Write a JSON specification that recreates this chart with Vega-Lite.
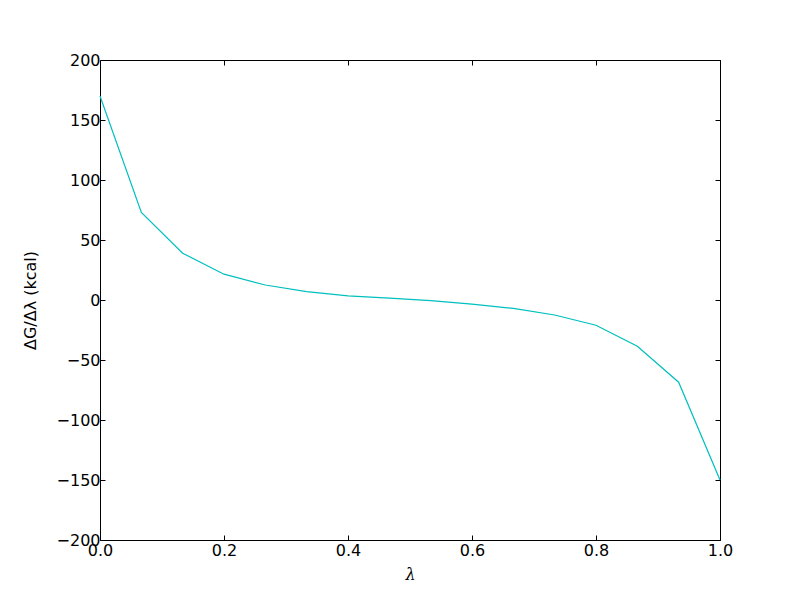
{
  "$schema": "https://vega.github.io/schema/vega-lite/v6.json",
  "width": 620,
  "height": 480,
  "autosize": "none",
  "padding": {"left": 100, "top": 60, "right": 80, "bottom": 60},
  "background": "white",
  "config": {
    "view": {"stroke": "black", "strokeWidth": 1},
    "font": "DejaVu Sans",
    "axis": {
      "grid": false,
      "domain": false,
      "tickColor": "black",
      "tickSize": -5,
      "tickWidth": 1,
      "labelFont": "DejaVu Sans",
      "labelFontSize": 16,
      "labelColor": "black",
      "labelPadding": 5,
      "labelFlush": false,
      "labelOverlap": false,
      "titleFont": "DejaVu Sans",
      "titleFontSize": 16,
      "titleFontWeight": "normal",
      "titleColor": "black"
    }
  },
  "data": {
    "values": [
      {"lambda": 0.0, "dG": 170},
      {"lambda": 0.0667, "dG": 73},
      {"lambda": 0.1333, "dG": 39},
      {"lambda": 0.2, "dG": 21.5},
      {"lambda": 0.2667, "dG": 12.5},
      {"lambda": 0.3333, "dG": 7},
      {"lambda": 0.4, "dG": 3.5},
      {"lambda": 0.4667, "dG": 1.5},
      {"lambda": 0.5333, "dG": -0.5},
      {"lambda": 0.6, "dG": -3.5},
      {"lambda": 0.6667, "dG": -7},
      {"lambda": 0.7333, "dG": -12.5},
      {"lambda": 0.8, "dG": -21},
      {"lambda": 0.8667, "dG": -38.5},
      {"lambda": 0.9333, "dG": -68.5},
      {"lambda": 1.0, "dG": -150}
    ]
  },
  "layer": [
    {
      "mark": {"type": "line", "color": "#00BFBF", "strokeWidth": 1.2},
      "encoding": {
        "x": {
          "field": "lambda", "type": "quantitative",
          "scale": {"domain": [0, 1], "nice": false, "zero": false},
          "axis": {"orient": "bottom", "title": "λ", "titleFontStyle": "italic", "titleFont": "DejaVu Serif", "titlePadding": 8, "labelPadding": 7, "values": [0, 0.2, 0.4, 0.6, 0.8, 1.0], "format": ".1f"}
        },
        "y": {
          "field": "dG", "type": "quantitative",
          "scale": {"domain": [-200, 200], "nice": false, "zero": false},
          "axis": {"orient": "left", "title": "ΔG/Δλ (kcal)", "titlePadding": 18, "values": [-200, -150, -100, -50, 0, 50, 100, 150, 200], "labelExpr": "replace(datum.label, '-', '−')"}
        }
      }
    },
    {
      "mark": {"type": "line", "opacity": 0},
      "encoding": {
        "x": {
          "field": "lambda", "type": "quantitative",
          "scale": {"domain": [0, 1], "nice": false, "zero": false},
          "axis": {"orient": "top", "title": null, "labels": false, "values": [0, 0.2, 0.4, 0.6, 0.8, 1.0]}
        },
        "y": {
          "field": "dG", "type": "quantitative",
          "scale": {"domain": [-200, 200], "nice": false, "zero": false},
          "axis": {"orient": "right", "title": null, "labels": false, "values": [-200, -150, -100, -50, 0, 50, 100, 150, 200]}
        }
      }
    }
  ],
  "resolve": {"axis": {"x": "independent", "y": "independent"}}
}
